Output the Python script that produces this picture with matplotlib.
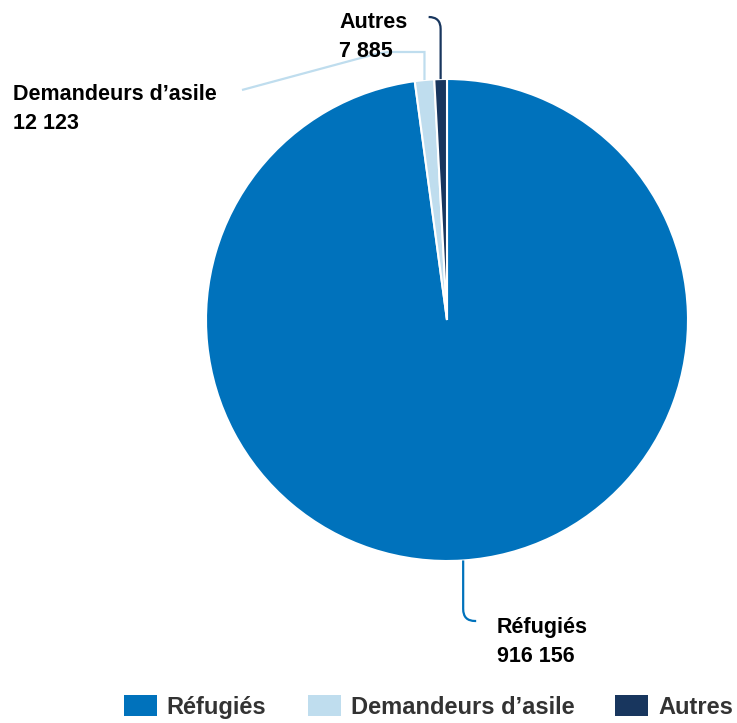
import numpy as np
import matplotlib
matplotlib.use("Agg")
import matplotlib.pyplot as plt
from matplotlib.path import Path
from matplotlib.patches import PathPatch

plt.rcParams['font.family'] = ['Liberation Sans', 'DejaVu Sans']

categories = ["Réfugiés", "Demandeurs d’asile", "Autres"]
values = [916156, 12123, 7885]
value_labels = ["916 156", "12 123", "7 885"]
colors = ["#0072BC", "#BFDDEE", "#18365E"]

W, H = 737, 723
fig = plt.figure(figsize=(W / 100, H / 100), dpi=100)
ax = fig.add_axes([0, 0, 1, 1])
ax.set_xlim(0, W)
ax.set_ylim(0, H)
ax.set_aspect('equal')
ax.axis('off')


def py(y):
    return H - y


cx, cy, R = 447, py(320), 241
wedges, _ = ax.pie(values, colors=colors, startangle=90, counterclock=False,
                   center=(cx, cy), radius=R,
                   wedgeprops=dict(edgecolor='white', linewidth=1.5))
ax.set_xlim(0, W)
ax.set_ylim(0, H)


def anchor(w):
    th = np.deg2rad((w.theta1 + w.theta2) / 2)
    return cx + R * np.cos(th), cy + R * np.sin(th)


def leader(points, corner_idx, rad, color):
    verts, codes = [points[0]], [Path.MOVETO]
    for i in range(1, len(points)):
        p = np.array(points[i], float)
        if i == corner_idx:
            prev = np.array(points[i - 1], float)
            nxt = np.array(points[i + 1], float)
            d1 = (p - prev) / np.linalg.norm(p - prev)
            d2 = (nxt - p) / np.linalg.norm(nxt - p)
            verts += [tuple(p - d1 * rad), tuple(p), tuple(p + d2 * rad)]
            codes += [Path.LINETO, Path.CURVE3, Path.CURVE3]
        else:
            verts.append(tuple(p))
            codes.append(Path.LINETO)
    ax.add_patch(PathPatch(Path(verts, codes), fill=False, edgecolor=color,
                           lw=1.6, capstyle='butt', zorder=1))


# Réfugiés leader
x0, y0 = anchor(wedges[0])
leader([(x0, y0), (x0, py(621)), (x0 + 13, py(621))], 1, 12, colors[0])
# Demandeurs leader
x1, y1 = anchor(wedges[1])
leader([(x1, y1), (x1, py(52)), (383, py(52)), (242, py(90))], 2, 9, colors[1])
# Autres leader
x2, y2 = anchor(wedges[2])
leader([(x2, y2), (x2, py(17)), (x2 - 12, py(17))], 1, 12, colors[2])

lab_kw = dict(fontsize=15.5, fontweight='bold', color='black', ha='left',
              va='baseline', linespacing=1.47)
ax.text(497, py(662), f"{categories[0]}\n{value_labels[0]}", **lab_kw)
ax.text(13, py(129), f"{categories[1]}\n{value_labels[1]}", **lab_kw)
ax.text(339, py(57), f"{categories[2]}\n{value_labels[2]}", **lab_kw)

leg = fig.legend(wedges, categories, loc='center', ncol=3, frameon=False,
                 bbox_to_anchor=(428.5 / W, 1 - 707 / H),
                 prop=dict(size=17, weight='bold'),
                 handlelength=1.4, handleheight=1.0, handletextpad=0.42,
                 columnspacing=1.74, borderpad=0, borderaxespad=0)
for t in leg.get_texts():
    t.set_color('#333333')
for h in leg.legend_handles:
    h.set_edgecolor('none')

fig.savefig("out.png", dpi=100)
